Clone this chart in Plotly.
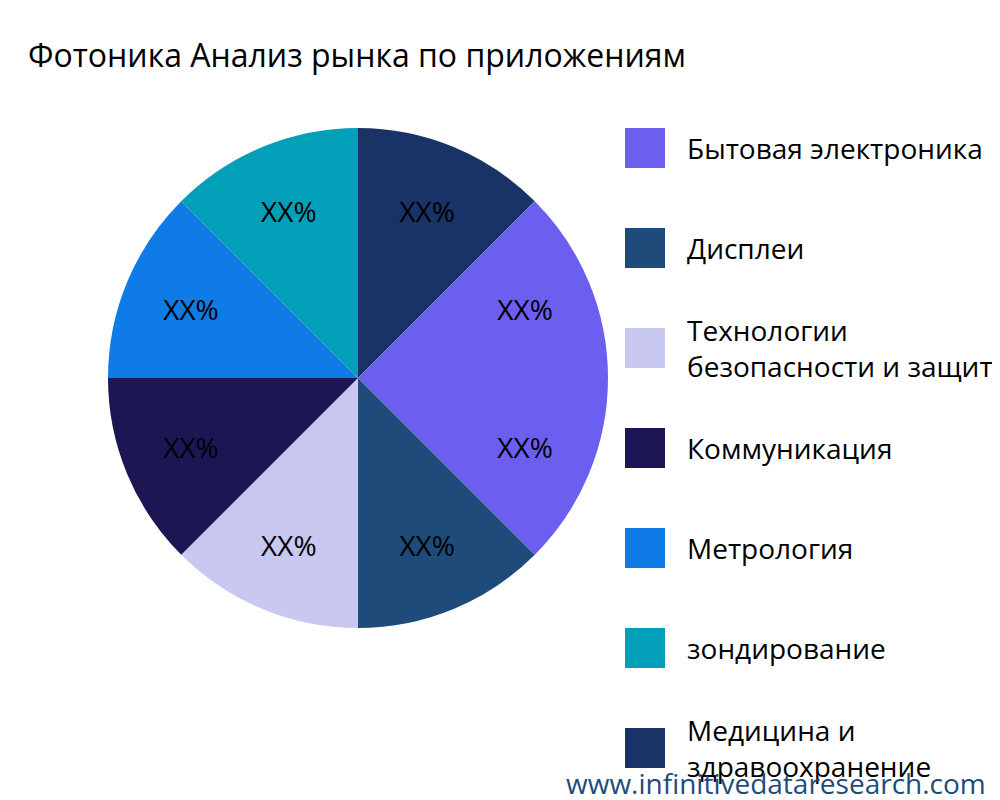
import plotly.graph_objects as go

labels = ["Бытовая электроника", "Дисплеи", "Технологии<br>безопасности и защиты", "Коммуникация",
          "Метрология", "зондирование", "Медицина и<br>здравоохранение", "Другие"]
values = [12.5, 12.5, 12.5, 12.5, 12.5, 12.5, 12.5, 12.5]
colors = ["#6c5ff0", "#1f4b7a", "#c8c8f0", "#1c1654", "#0e7be6", "#029fb8", "#1a3366", "#6c5ff0"]

fig = go.Figure(go.Pie(
    labels=labels, values=values, sort=False, direction="clockwise", rotation=90,
    marker=dict(colors=colors), text=["XX%"] * len(values), textinfo="text",
    textposition="inside", insidetextfont=dict(color="black", size=28),
    domain=dict(x=[0.1, 0.6], y=[0.225, 0.85]), showlegend=False,
))

shapes, annots = [], []
for i, (lab, col) in enumerate(zip(labels, colors)):
    yc = 140 + 100 * i
    if yc > 800:
        continue
    shapes.append(dict(type="rect", xref="paper", yref="paper",
                       x0=617 / 1000, x1=657 / 1000, y0=1 - (yc + 20) / 800, y1=1 - (yc - 20) / 800,
                       fillcolor=col, line=dict(width=0)))
    annots.append(dict(text=lab, x=677 / 1000, y=1 - yc / 800, xref="paper", yref="paper",
                       xanchor="left", yanchor="middle", align="left", showarrow=False,
                       font=dict(size=28, color="black")))
annots.append(dict(text="www.infinitivedataresearch.com", x=0.98, y=0.005, xref="paper", yref="paper",
                   xanchor="right", yanchor="bottom", showarrow=False, font=dict(size=28, color="#1f4b7a")))

fig.update_layout(
    width=1000, height=800, paper_bgcolor="white",
    font=dict(family="Open Sans", size=28),
    title=dict(text="Фотоника Анализ рынка по приложениям", x=0.02, xanchor="left", y=0.94, yanchor="middle",
               font=dict(size=32, color="black")),
    margin=dict(l=0, r=0, t=0, b=0),
    shapes=shapes, annotations=annots,
)
fig.write_html("out.html")
